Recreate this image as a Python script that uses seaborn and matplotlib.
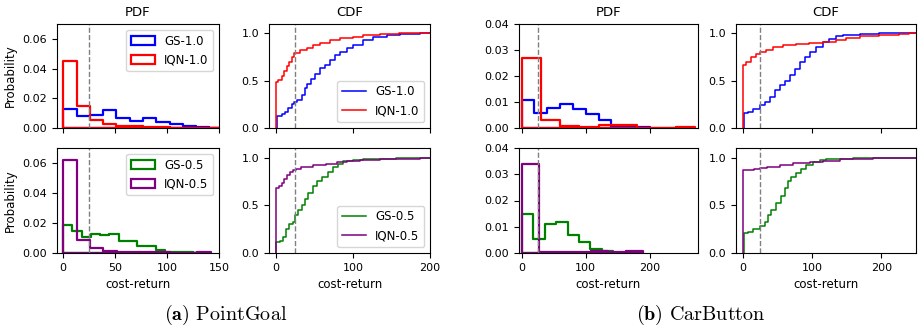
import numpy as np
import matplotlib
matplotlib.use('Agg')
import matplotlib.pyplot as plt
import seaborn as sns
from matplotlib.patches import Patch

plt.rcParams.update({
    'font.size': 8.5,
    'xtick.labelsize': 8,
    'ytick.labelsize': 8,
    'axes.titlesize': 9.5,
    'axes.labelsize': 8.5,
    'legend.fontsize': 8.5,
    'mathtext.fontset': 'cm',
})

THRESH = 25

# ---- PDF histograms: bin width + bar heights ----
# PointGoal
pg_gs10_w = 12.8
pg_gs10 = [0.0127, 0.0080, 0.0086, 0.0122, 0.0070, 0.0048, 0.0064, 0.0043, 0.0030, 0.0016, 0.0005, 0.0003]
pg_iqn10_w = 12.8
pg_iqn10 = [0.0450, 0.0148, 0.0057, 0.0030, 0.0016, 0.0011, 0.0007, 0.0005, 0.0003, 0.0002, 0.0001, 0.0001]
pg_gs05_w = 8.9
pg_gs05 = [0.0187, 0.0149, 0.0106, 0.0124, 0.0118, 0.0130, 0.0080, 0.0080, 0.0045, 0.0045,
           0.0023, 0.0007, 0.0007, 0.0004, 0.0003]
pg_iqn05_w = 12.9
pg_iqn05 = [0.0618, 0.0086, 0.0036, 0.0014, 0.0005, 0.0010, 0.0007, 0.0004, 0.0003, 0.0002, 0.0005]

# CarButton
cb_gs10_w = 20.0
cb_gs10 = [0.0107, 0.0057, 0.0076, 0.0093, 0.0072, 0.0055, 0.0030, 0.0005, 0.0004, 0.0003]
cb_iqn10_w = 30.0
cb_iqn10 = [0.0269, 0.0029, 0.0008, 0.0003, 0.0010, 0.0012, 0.0001, 0.0, 0.0003]
cb_gs05_w = 17.9
cb_gs05 = [0.0148, 0.0053, 0.0109, 0.0120, 0.0068, 0.0042, 0.0016, 0.0008, 0.0001]
cb_iqn05_w = 27.0
cb_iqn05 = [0.0340, 0.0005, 0.0004, 0.0004, 0.0008, 0.0003, 0.0008]

# ---- CDF step points (cost-return, cumulative probability) ----
pg_gs10_cx = [0.9, 0.9, 7.4, 11.7, 16, 20.3, 24, 26.8, 33.3, 37.7, 40.7, 45, 50.6, 57, 63.6, 70,
              76.6, 83, 91.8, 100, 113, 126, 144, 161, 187, 200]
pg_gs10_cy = [0, 0.13, 0.15, 0.17, 0.21, 0.25, 0.28, 0.30, 0.35, 0.42, 0.47, 0.52, 0.57, 0.63, 0.67,
              0.72, 0.77, 0.80, 0.85, 0.88, 0.93, 0.96, 0.98, 0.99, 1.0, 1.0]
pg_iqn10_cx = [0, 0, 3, 7.4, 10.4, 13.9, 16.9, 20.3, 23.4, 31, 40, 48.5, 57, 70, 83, 100, 113,
               135, 160, 200]
pg_iqn10_cy = [0, 0.49, 0.51, 0.55, 0.60, 0.66, 0.70, 0.75, 0.79, 0.82, 0.85, 0.88, 0.90, 0.93,
               0.95, 0.96, 0.98, 0.99, 1.0, 1.0]
pg_gs05_cx = [0, 0, 5.2, 9.5, 12.6, 16.9, 21.6, 24.7, 29, 33.3, 37.7, 42, 48.5, 52.8, 59.3, 68,
              74.5, 81, 87.4, 100, 113, 130, 156, 200]
pg_gs05_cy = [0, 0.12, 0.13, 0.17, 0.25, 0.30, 0.33, 0.40, 0.45, 0.50, 0.57, 0.63, 0.70, 0.75,
              0.80, 0.85, 0.90, 0.93, 0.96, 0.97, 0.98, 0.99, 1.0, 1.0]
pg_iqn05_cx = [0, 0, 4.3, 7.4, 10.4, 13.9, 18.2, 21.6, 26, 33, 48, 65, 79, 92, 109, 135, 161,
               187, 200]
pg_iqn05_cy = [0, 0.685, 0.70, 0.73, 0.78, 0.82, 0.85, 0.87, 0.88, 0.90, 0.92, 0.93, 0.95, 0.96,
               0.97, 0.98, 0.99, 1.0, 1.0]

cb_gs10_cx = [1, 1, 7.2, 14.5, 24, 31.3, 38.6, 45.8, 53, 60.2, 67.5, 74.7, 82, 89, 96.4, 106,
              115.7, 125, 135, 144.6, 168.7, 197, 250]
cb_gs10_cy = [0, 0.156, 0.17, 0.20, 0.24, 0.28, 0.33, 0.40, 0.45, 0.50, 0.56, 0.62, 0.70, 0.75,
              0.80, 0.86, 0.91, 0.94, 0.97, 0.98, 0.99, 1.0, 1.0]
cb_iqn10_cx = [0, 0, 5, 12, 19.3, 25, 33.7, 43.4, 57.8, 77, 96, 116, 135, 149, 169, 197, 226,
               240, 250]
cb_iqn10_cy = [0, 0.67, 0.70, 0.75, 0.78, 0.80, 0.83, 0.86, 0.88, 0.89, 0.90, 0.91, 0.93, 0.95,
               0.97, 0.98, 0.99, 1.0, 1.0]
cb_gs05_cx = [1, 1, 7.2, 14.5, 24, 31.3, 36, 41, 48, 55.4, 60.2, 65, 70, 77, 84.3, 91.6, 101,
              111, 120.5, 135, 159, 250]
cb_gs05_cy = [0, 0.21, 0.22, 0.25, 0.28, 0.32, 0.40, 0.45, 0.52, 0.60, 0.68, 0.75, 0.80, 0.84,
              0.88, 0.92, 0.95, 0.97, 0.98, 0.99, 1.0, 1.0]
cb_iqn05_cx = [0, 0, 15.4, 25, 34.7, 54, 73, 96.4, 116, 140, 169, 188, 250]
cb_iqn05_cy = [0, 0.87, 0.88, 0.89, 0.90, 0.92, 0.94, 0.95, 0.96, 0.98, 0.99, 1.0, 1.0]


def pdf(ax, heights, width, color):
    edges = [i * width for i in range(len(heights) + 1)]
    centers = [e + width / 2 for e in edges[:-1]]
    sns.histplot(x=centers, weights=list(heights), bins=edges, stat='count', element='step',
                 fill=True, color=color, facecolor='none', edgecolor=color, linewidth=1.6, ax=ax)


def cdf(ax, xs, ys, color, label=None):
    sns.lineplot(x=xs, y=ys, color=color, linewidth=1.1, drawstyle='steps-post',
                 estimator=None, sort=False, ax=ax, label=label)


fig = plt.figure(figsize=(9.19, 3.31), dpi=100)
W, H = 919, 331


def box(x0, x1, y0, y1):
    return [x0 / W, 1 - y1 / H, (x1 - x0) / W, (y1 - y0) / H]


top, bot = (24, 128), (148, 253)
cols = [(57, 219), (269, 430), (519, 698), (736, 916)]
axs = [[fig.add_axes(box(c[0], c[1], r[0], r[1])) for c in cols] for r in (top, bot)]

# PointGoal PDFs
a = axs[0][0]
pdf(a, pg_gs10, pg_gs10_w, 'blue')
pdf(a, pg_iqn10, pg_iqn10_w, 'red')
a.legend([Patch(fc='none', ec='blue', lw=1.6), Patch(fc='none', ec='red', lw=1.6)],
         ['GS-1.0', 'IQN-1.0'], loc='upper right')
a = axs[1][0]
pdf(a, pg_gs05, pg_gs05_w, 'green')
pdf(a, pg_iqn05, pg_iqn05_w, 'purple')
a.legend([Patch(fc='none', ec='green', lw=1.6), Patch(fc='none', ec='purple', lw=1.6)],
         ['GS-0.5', 'IQN-0.5'], loc='upper right')
for a in (axs[0][0], axs[1][0]):
    a.set_xlim(-6, 150)
    a.set_ylim(0, 0.07)
    a.set_yticks([0, 0.02, 0.04, 0.06])
    a.set_xticks([0, 50, 100, 150])
    a.set_ylabel('Probability')

# PointGoal CDFs
a = axs[0][1]
cdf(a, pg_gs10_cx, pg_gs10_cy, 'blue', 'GS-1.0')
cdf(a, pg_iqn10_cx, pg_iqn10_cy, 'red', 'IQN-1.0')
a.legend(loc='lower right')
a = axs[1][1]
cdf(a, pg_gs05_cx, pg_gs05_cy, 'green', 'GS-0.5')
cdf(a, pg_iqn05_cx, pg_iqn05_cy, 'purple', 'IQN-0.5')
a.legend(loc='lower right')
for a in (axs[0][1], axs[1][1]):
    a.set_xlim(-9, 200)
    a.set_xticks([0, 100, 200])

# CarButton PDFs
pdf(axs[0][2], cb_gs10, cb_gs10_w, 'blue')
pdf(axs[0][2], cb_iqn10, cb_iqn10_w, 'red')
pdf(axs[1][2], cb_gs05, cb_gs05_w, 'green')
pdf(axs[1][2], cb_iqn05, cb_iqn05_w, 'purple')
for a in (axs[0][2], axs[1][2]):
    a.set_xlim(-4, 275)
    a.set_ylim(0, 0.04)
    a.set_yticks([0, 0.01, 0.02, 0.03, 0.04])
    a.set_xticks([0, 100, 200])

# CarButton CDFs
cdf(axs[0][3], cb_gs10_cx, cb_gs10_cy, 'blue')
cdf(axs[0][3], cb_iqn10_cx, cb_iqn10_cy, 'red')
cdf(axs[1][3], cb_gs05_cx, cb_gs05_cy, 'green')
cdf(axs[1][3], cb_iqn05_cx, cb_iqn05_cy, 'purple')
for a in (axs[0][3], axs[1][3]):
    a.set_xlim(-10, 250)
    a.set_xticks([0, 100, 200])

for j in (1, 3):
    for a in (axs[0][j], axs[1][j]):
        a.set_ylim(0, 1.1)
        a.set_yticks([0, 0.5, 1.0])

for j in range(4):
    axs[0][j].set_title('PDF' if j % 2 == 0 else 'CDF')
    axs[0][j].tick_params(labelbottom=False)
    axs[0][j].set_xlabel('')
    axs[1][j].set_xlabel('cost-return')
    for i in range(2):
        axs[i][j].axvline(THRESH, color='grey', ls='--', lw=1.0)
        axs[i][j].yaxis.set_major_formatter(
            matplotlib.ticker.FormatStrFormatter('%.2f' if j % 2 == 0 else '%.1f'))
        if j > 0:
            axs[i][j].set_ylabel('')

fig.text(0.246, 0.048, r'$\mathbf{(a)}$ $\mathrm{PointGoal}$', ha='center', va='center', fontsize=14.5)
fig.text(0.763, 0.048, r'$\mathbf{(b)}$ $\mathrm{CarButton}$', ha='center', va='center', fontsize=14.5)

fig.savefig('out.png', dpi=100)
